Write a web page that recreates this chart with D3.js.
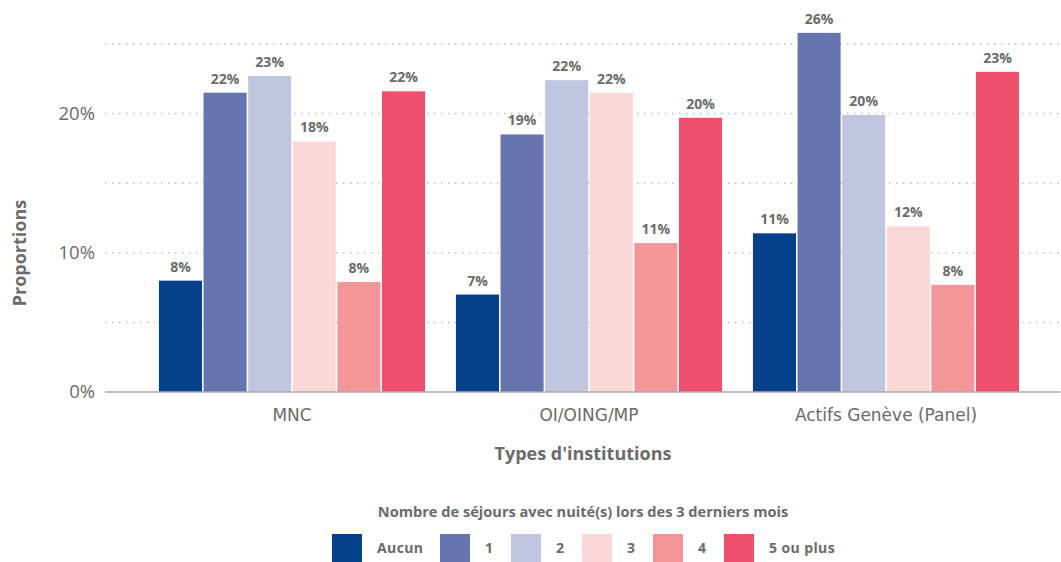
<!DOCTYPE html>
<html>
<head>
<meta charset="utf-8">
<script src="https://cdn.jsdelivr.net/npm/d3@7/dist/d3.min.js"></script>
<style>
  html, body { margin: 0; padding: 0; background: #fff; }
  svg { display: block; font-family: "Open Sans", "Noto Sans", sans-serif; }
</style>
</head>
<body>
<svg id="chart" width="1061" height="562"></svg>
<script>
// Institution types along the x axis
const categories = ["MNC", "OI/OING/MP", "Actifs Genève (Panel)"];
// Number of overnight trips in the last 3 months (legend / series)
const seriesNames = ["Aucun", "1", "2", "3", "4", "5 ou plus"];
const seriesColors = ["#05418a", "#6575ae", "#c1c6e0", "#fbd8d8", "#f49698", "#ee4f6b"];
// Shares (%) per institution type, one array per series
const aucun    = [8.0, 7.0, 11.4];
const un       = [21.5, 18.5, 25.8];
const deux     = [22.7, 22.4, 19.9];
const trois    = [18.0, 21.5, 11.9];
const quatre   = [7.9, 10.7, 7.7];
const cinqPlus = [21.6, 19.7, 23.0];
const yTicks = [0, 10, 20];
const yGrid = [5, 15, 25];

const seriesValues = [aucun, un, deux, trois, quatre, cinqPlus];

const svg = d3.select("#chart");
const textColor = "#6b6b6b";

const plotLeft = 105, plotRight = 1060;
const y = d3.scaleLinear().domain([0, 25]).range([392, 44]);

const x0 = d3.scaleBand()
  .domain(categories)
  .range([143.5, 1034.5])
  .paddingInner(0.104)
  .paddingOuter(0.052);

const x1 = d3.scaleBand()
  .domain(seriesNames)
  .range([0, x0.bandwidth()])
  .paddingInner(0.035);

// dotted gridlines
svg.append("g")
  .selectAll("line")
  .data(yTicks.filter(d => d > 0).concat(yGrid))
  .join("line")
  .attr("x1", plotLeft)
  .attr("x2", plotRight)
  .attr("y1", d => y(d))
  .attr("y2", d => y(d))
  .attr("stroke", "#bdbdbd")
  .attr("stroke-width", 1.5)
  .attr("stroke-dasharray", "1.5,5.5");

// y axis tick labels
const yAxis = d3.axisLeft(y).tickValues(yTicks).tickSize(0).tickPadding(10)
  .tickFormat(d => d + "%");
svg.append("g")
  .attr("transform", `translate(${plotLeft},0)`)
  .call(yAxis)
  .call(g => g.select(".domain").remove())
  .call(g => g.selectAll("text")
    .attr("fill", textColor)
    .attr("font-size", 18.5)
    .attr("font-family", "'Open Sans', sans-serif"));

// bars
const groups = svg.append("g")
  .selectAll("g")
  .data(categories)
  .join("g")
  .attr("transform", d => `translate(${x0(d)},0)`);

groups.selectAll("rect")
  .data((c, ci) => seriesNames.map((s, si) => ({ s, si, v: seriesValues[si][ci] })))
  .join("rect")
  .attr("x", d => x1(d.s))
  .attr("width", x1.bandwidth())
  .attr("y", d => y(d.v))
  .attr("height", d => y(0) - y(d.v))
  .attr("fill", d => seriesColors[d.si]);

groups.selectAll("text")
  .data((c, ci) => seriesNames.map((s, si) => ({ s, si, v: seriesValues[si][ci] })))
  .join("text")
  .attr("x", d => x1(d.s) + x1.bandwidth() / 2)
  .attr("y", d => y(d.v) - 9)
  .attr("text-anchor", "middle")
  .attr("fill", textColor)
  .attr("font-size", 14)
  .attr("font-weight", 700)
  .text(d => Math.round(d.v) + "%");

// baseline
svg.append("line")
  .attr("x1", plotLeft).attr("x2", plotRight)
  .attr("y1", y(0)).attr("y2", y(0))
  .attr("stroke", "#a9abb0")
  .attr("stroke-width", 1.5);

// x axis category labels
const xAxis = d3.axisBottom(x0).tickSize(0).tickPadding(17);
svg.append("g")
  .attr("transform", `translate(0,${y(0)})`)
  .call(xAxis)
  .call(g => g.select(".domain").remove())
  .call(g => g.selectAll("text")
    .attr("fill", textColor)
    .attr("font-size", 17)
    .attr("font-family", "'DejaVu Sans', sans-serif"));

// axis titles
svg.append("text")
  .attr("x", 583).attr("y", 460)
  .attr("text-anchor", "middle")
  .attr("fill", textColor)
  .attr("font-size", 18)
  .attr("font-weight", 700)
  .text("Types d'institutions");

svg.append("text")
  .attr("transform", "translate(26,253) rotate(-90)")
  .attr("text-anchor", "middle")
  .attr("fill", textColor)
  .attr("font-size", 18)
  .attr("font-weight", 700)
  .text("Proportions");

// legend
svg.append("text")
  .attr("x", 583).attr("y", 517)
  .attr("text-anchor", "middle")
  .attr("fill", textColor)
  .attr("font-size", 14.6)
  .attr("font-weight", 700)
  .text("Nombre de séjours avec nuité(s) lors des 3 derniers mois");

const legendX = [332, 440, 511, 582, 653, 724];
const legend = svg.append("g")
  .selectAll("g")
  .data(seriesNames)
  .join("g")
  .attr("transform", (d, i) => `translate(${legendX[i]},534)`);

legend.append("rect")
  .attr("width", 30).attr("height", 28)
  .attr("fill", (d, i) => seriesColors[i]);

legend.append("text")
  .attr("x", 45).attr("y", 19)
  .attr("fill", textColor)
  .attr("font-size", 14)
  .attr("font-weight", 700)
  .attr("letter-spacing", 0.4)
  .text(d => d);
</script>
</body>
</html>
